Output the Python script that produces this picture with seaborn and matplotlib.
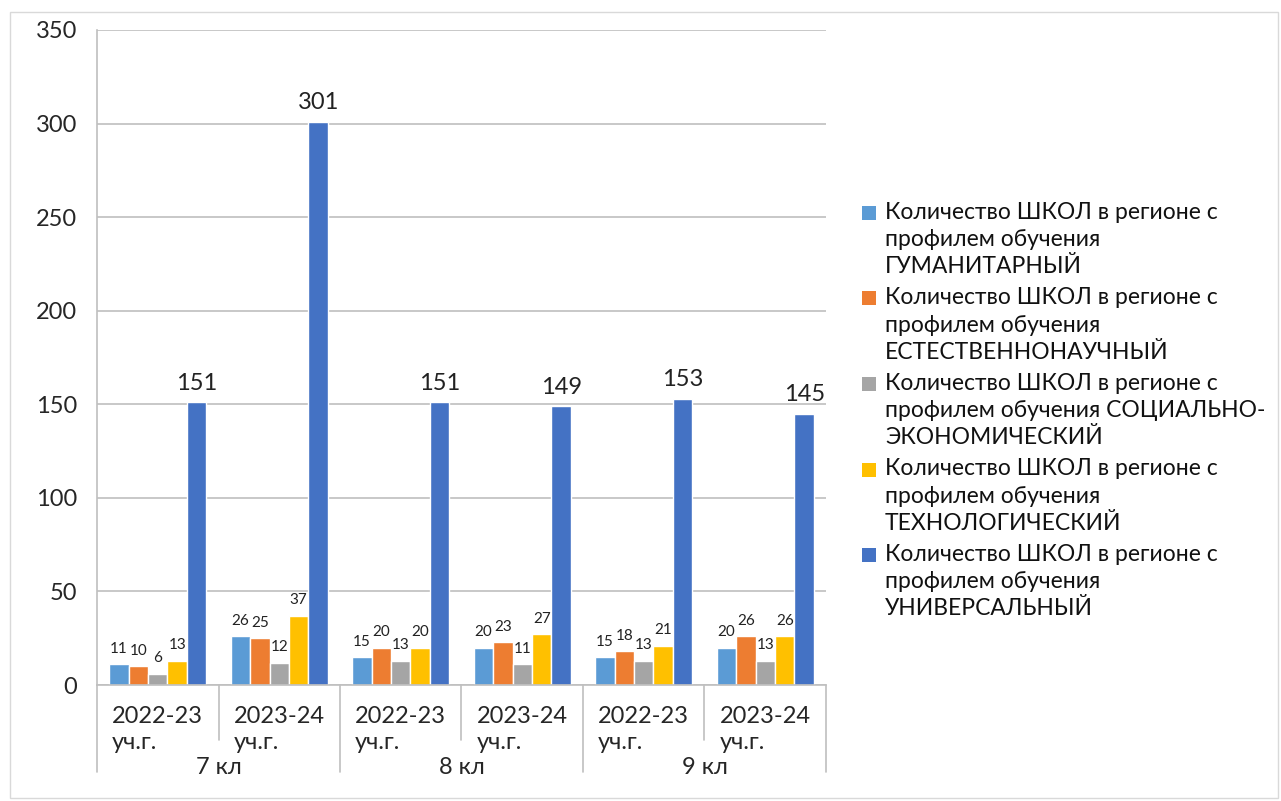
import matplotlib
matplotlib.use("Agg")
import matplotlib.pyplot as plt
import matplotlib.transforms as mtransforms
from matplotlib.patches import Rectangle
import seaborn as sns
import numpy as np
import pandas as pd

# Данные графика
grades = ["7 кл", "8 кл", "9 кл"]
years = ["2022-23\nуч.г.", "2023-24\nуч.г."]
profiles = [
    "Количество ШКОЛ в регионе с\nпрофилем обучения\nГУМАНИТАРНЫЙ",
    "Количество ШКОЛ в регионе с\nпрофилем обучения\nЕСТЕСТВЕННОНАУЧНЫЙ",
    "Количество ШКОЛ в регионе с\nпрофилем обучения СОЦИАЛЬНО-\nЭКОНОМИЧЕСКИЙ",
    "Количество ШКОЛ в регионе с\nпрофилем обучения\nТЕХНОЛОГИЧЕСКИЙ",
    "Количество ШКОЛ в регионе с\nпрофилем обучения\nУНИВЕРСАЛЬНЫЙ",
]
humanitarian = [11, 26, 15, 20, 15, 20]
natural_science = [10, 25, 20, 23, 18, 26]
socio_economic = [6, 12, 13, 11, 13, 13]
technological = [13, 37, 20, 27, 21, 26]
universal = [151, 301, 151, 149, 153, 145]
colors = ["#5B9BD5", "#ED7D31", "#A5A5A5", "#FFC000", "#4472C4"]

series = [humanitarian, natural_science, socio_economic, technological, universal]
categories = [f"{g}|{y}" for g in grades for y in years]

rows = []
for profile, values in zip(profiles, series):
    for cat, v in zip(categories, values):
        rows.append({"cat": cat, "profile": profile, "value": v})
df = pd.DataFrame(rows)

sns.set_style("white")
plt.rcParams["font.family"] = ["Lato", "DejaVu Sans"]

W, H = 1281, 801
fig = plt.figure(figsize=(W / 100, H / 100), dpi=100)
ax = fig.add_axes([97 / W, 1 - 685 / H, (826 - 97) / W, (685 - 30) / H])

sns.barplot(data=df, x="cat", y="value", hue="profile", order=categories,
            hue_order=profiles, palette=colors, width=0.8, ax=ax,
            saturation=1, legend=False)

# Подписи значений
for i, container in enumerate(ax.containers):
    if i == 4:
        ax.bar_label(container, padding=6, fontsize=17, color="#222222")
    else:
        ax.bar_label(container, padding=6, fontsize=11, color="#222222")

ax.set_ylim(0, 350)
ax.set_yticks(np.arange(0, 351, 50))
ax.set_xlim(-0.5, len(categories) - 0.5)
ax.tick_params(axis="y", labelsize=17, length=4.5, color="#bfbfbf", pad=10)
ax.tick_params(axis="x", length=0, labelbottom=False)
ax.set_xlabel("")
ax.set_ylabel("")
ax.grid(axis="y", color="#bfbfbf", linewidth=1.2)
ax.set_axisbelow(True)
for side in ["top", "right"]:
    ax.spines[side].set_visible(False)
ax.spines["left"].set_color("#bfbfbf")
ax.spines["bottom"].set_color("#bfbfbf")
ax.spines["left"].set_linewidth(1.2)
ax.spines["bottom"].set_linewidth(1.2)

# Многоуровневая ось категорий
trans = mtransforms.blended_transform_factory(ax.transData, ax.transAxes)
h = 655
for k in range(len(categories) + 1):
    x = k - 0.5
    y_end = -87 / h if k % 2 == 0 else -55 / h
    ax.plot([x, x], [0, y_end], transform=trans, color="#bfbfbf",
            linewidth=1.2, clip_on=False)
for k, cat in enumerate(categories):
    label = cat.split("|")[1]
    ax.text(k, -21 / h, label, transform=trans, ha="center", va="top",
            multialignment="left", fontsize=17, linespacing=1.32)
for j, g in enumerate(grades):
    ax.text(2 * j + 0.5, -83 / h, g, transform=trans, ha="center",
            va="center", fontsize=17)

# Легенда (маркер у первой строки, как в Excel)
for i, (profile, color) in enumerate(zip(profiles, colors)):
    y_line = 213 + i * 85.5
    fig.patches.append(Rectangle((862 / W, 1 - (y_line + 7) / H), 14 / W, 14 / H,
                                 transform=fig.transFigure, facecolor=color,
                                 edgecolor="none"))
    fig.text(885 / W, 1 - (y_line - 11) / H, profile, ha="left", va="top",
             fontsize=16.5, linespacing=1.36, color="#111111")

# Рамка вокруг
fig.patches.append(Rectangle((10 / W, 3 / H), 1268 / W, 786 / H,
                             transform=fig.transFigure, fill=False,
                             edgecolor="#d9d9d9", linewidth=1))

fig.savefig("out.png", dpi=100)
